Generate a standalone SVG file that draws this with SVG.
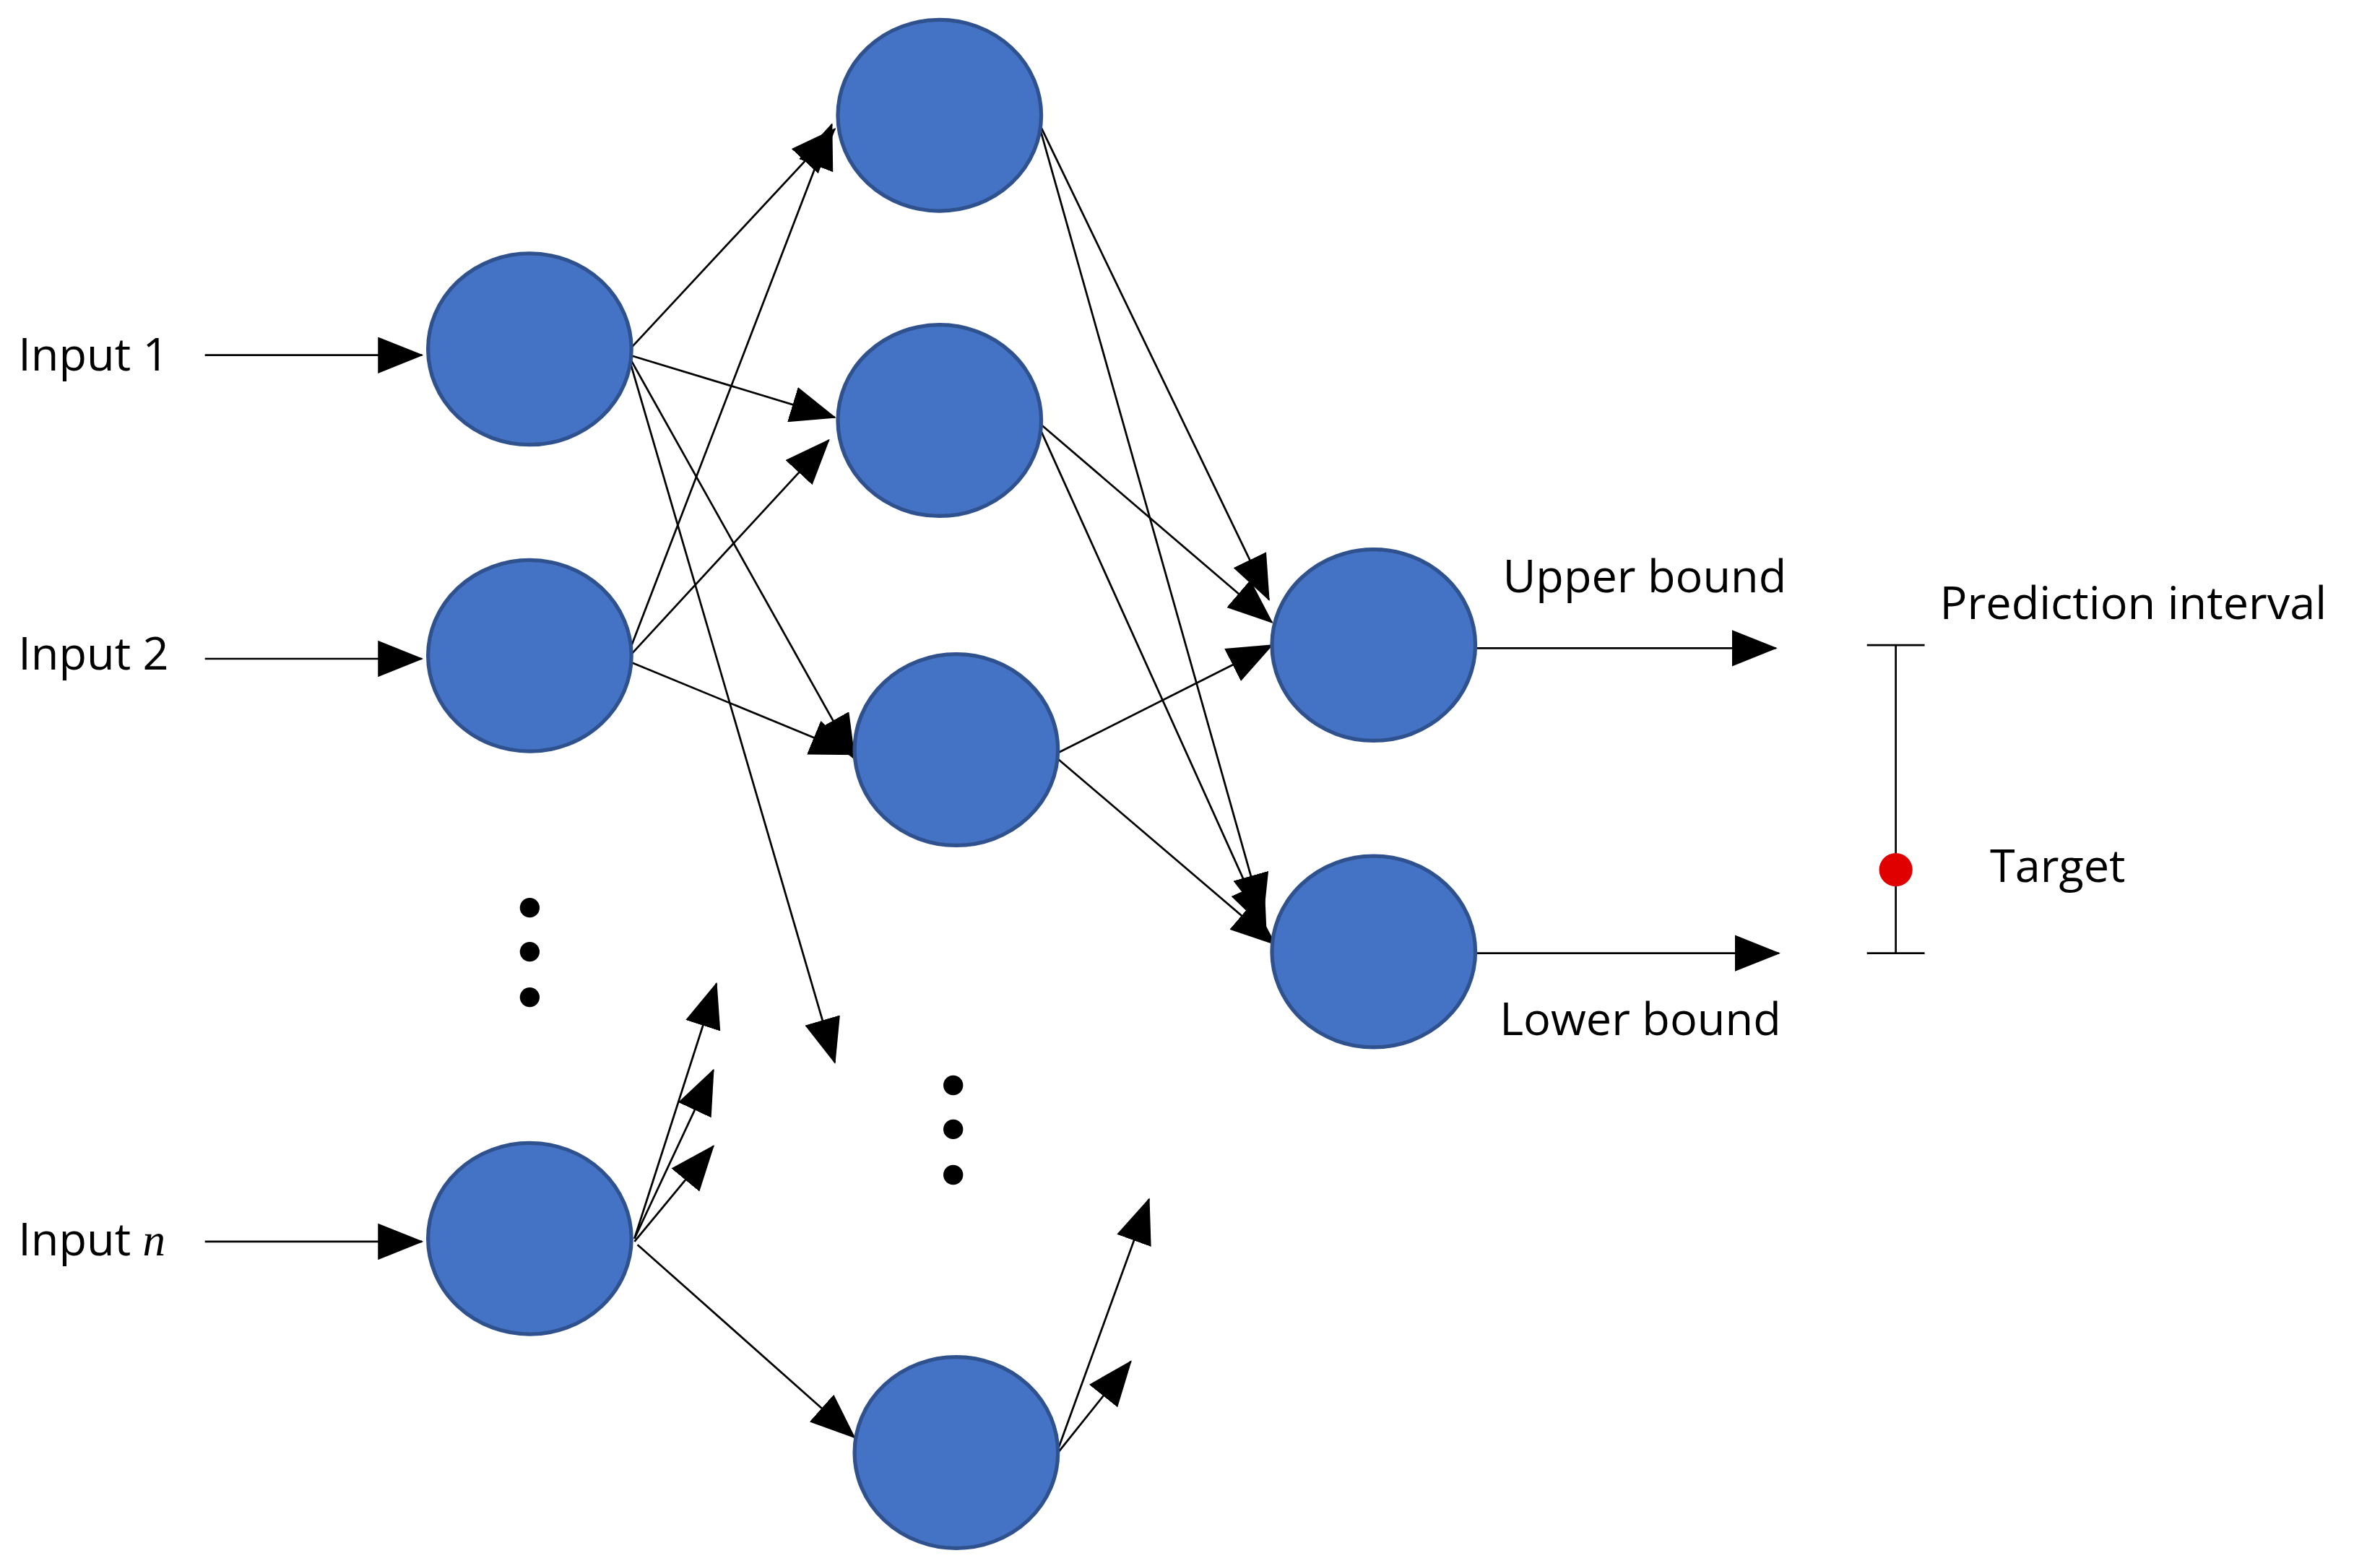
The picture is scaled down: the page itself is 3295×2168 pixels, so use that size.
<svg xmlns="http://www.w3.org/2000/svg" width="3295" height="2168" viewBox="0 0 3295 2168">
<style>
.n{fill:#4472C4;stroke:#2F528F;stroke-width:2.5}
.c line{stroke:#000;stroke-width:1.3;marker-end:url(#a)}
.t{font-family:"Open Sans","Noto Sans",sans-serif;font-size:30px;fill:#000}
.d{fill:#000}
</style>
<defs>
<marker id="a" markerUnits="userSpaceOnUse" markerWidth="30" markerHeight="24" refX="29" refY="12" orient="auto"><path d="M0,0L30,12L0,24Z" fill="#000"/></marker>
</defs>
<rect width="3295" height="2168" fill="#fff"/>
<g transform="scale(2.1014)">
<g class="c" id="connectors">
<line x1="135" y1="234" x2="278" y2="234"/>
<line x1="135" y1="434" x2="278" y2="434"/>
<line x1="135" y1="818" x2="278" y2="818"/>
<line x1="415" y1="230" x2="550" y2="85"/>
<line x1="415" y1="234" x2="550" y2="275"/>
<line x1="415" y1="236" x2="563" y2="500"/>
<line x1="415" y1="238" x2="550" y2="700"/>
<line x1="415" y1="428" x2="548" y2="82"/>
<line x1="415" y1="432" x2="546" y2="290"/>
<line x1="415" y1="436" x2="563" y2="497"/>
<line x1="418" y1="816" x2="472" y2="648"/>
<line x1="418" y1="816" x2="470" y2="705"/>
<line x1="418" y1="818" x2="470" y2="755"/>
<line x1="420" y1="820" x2="563" y2="947"/>
<line x1="685" y1="82" x2="836" y2="395"/>
<line x1="685" y1="84" x2="832" y2="605"/>
<line x1="685" y1="279" x2="838" y2="410"/>
<line x1="685" y1="282" x2="834" y2="612"/>
<line x1="697" y1="496" x2="838" y2="425"/>
<line x1="697" y1="500" x2="840" y2="622"/>
<line x1="697" y1="955" x2="757" y2="790"/>
<line x1="697" y1="957" x2="745" y2="897"/>
<line x1="973" y1="427" x2="1170" y2="427"/>
<line x1="973" y1="628" x2="1172" y2="628"/>
</g>
<g id="in1"><ellipse class="n" cx="349" cy="230" rx="67" ry="63"/></g>
<g id="in2"><ellipse class="n" cx="349" cy="432" rx="67" ry="63"/></g>
<g id="inn"><ellipse class="n" cx="349" cy="816" rx="67" ry="63"/></g>
<g id="h1"><ellipse class="n" cx="619" cy="76" rx="67" ry="63"/></g>
<g id="h2"><ellipse class="n" cx="619" cy="277" rx="67" ry="63"/></g>
<g id="h3"><ellipse class="n" cx="630" cy="494" rx="67" ry="63"/></g>
<g id="h4"><ellipse class="n" cx="630" cy="957" rx="67" ry="63"/></g>
<g id="o1"><ellipse class="n" cx="905" cy="425" rx="67" ry="63"/></g>
<g id="o2"><ellipse class="n" cx="905" cy="627" rx="67" ry="63"/></g>
<g id="dots">
<circle class="d" cx="349" cy="598" r="6.5"/><circle class="d" cx="349" cy="627" r="6.5"/><circle class="d" cx="349" cy="657" r="6.5"/>
<circle class="d" cx="628" cy="715" r="6.5"/><circle class="d" cx="628" cy="744" r="6.5"/><circle class="d" cx="628" cy="774" r="6.5"/>
</g>
<g id="interval" stroke="#000" stroke-width="1.3">
<line x1="1249" y1="425" x2="1249" y2="628"/>
<line x1="1230" y1="425" x2="1268" y2="425"/>
<line x1="1230" y1="628" x2="1268" y2="628"/>
<circle cx="1249" cy="573" r="11" fill="#E00000" stroke="none"/>
</g>
<g id="labels">
<text class="t" x="12" y="244">Input 1</text>
<text class="t" x="12" y="441">Input 2</text>
<text class="t" x="12" y="827">Input <tspan font-family="'Liberation Serif',serif" font-style="italic">n</tspan></text>
<text class="t" x="990" y="390">Upper bound</text>
<text class="t" x="988" y="682">Lower bound</text>
<text class="t" x="1278" y="408">Prediction interval</text>
<text class="t" x="1311" y="581">Target</text>
</g>
</g>
</svg>
